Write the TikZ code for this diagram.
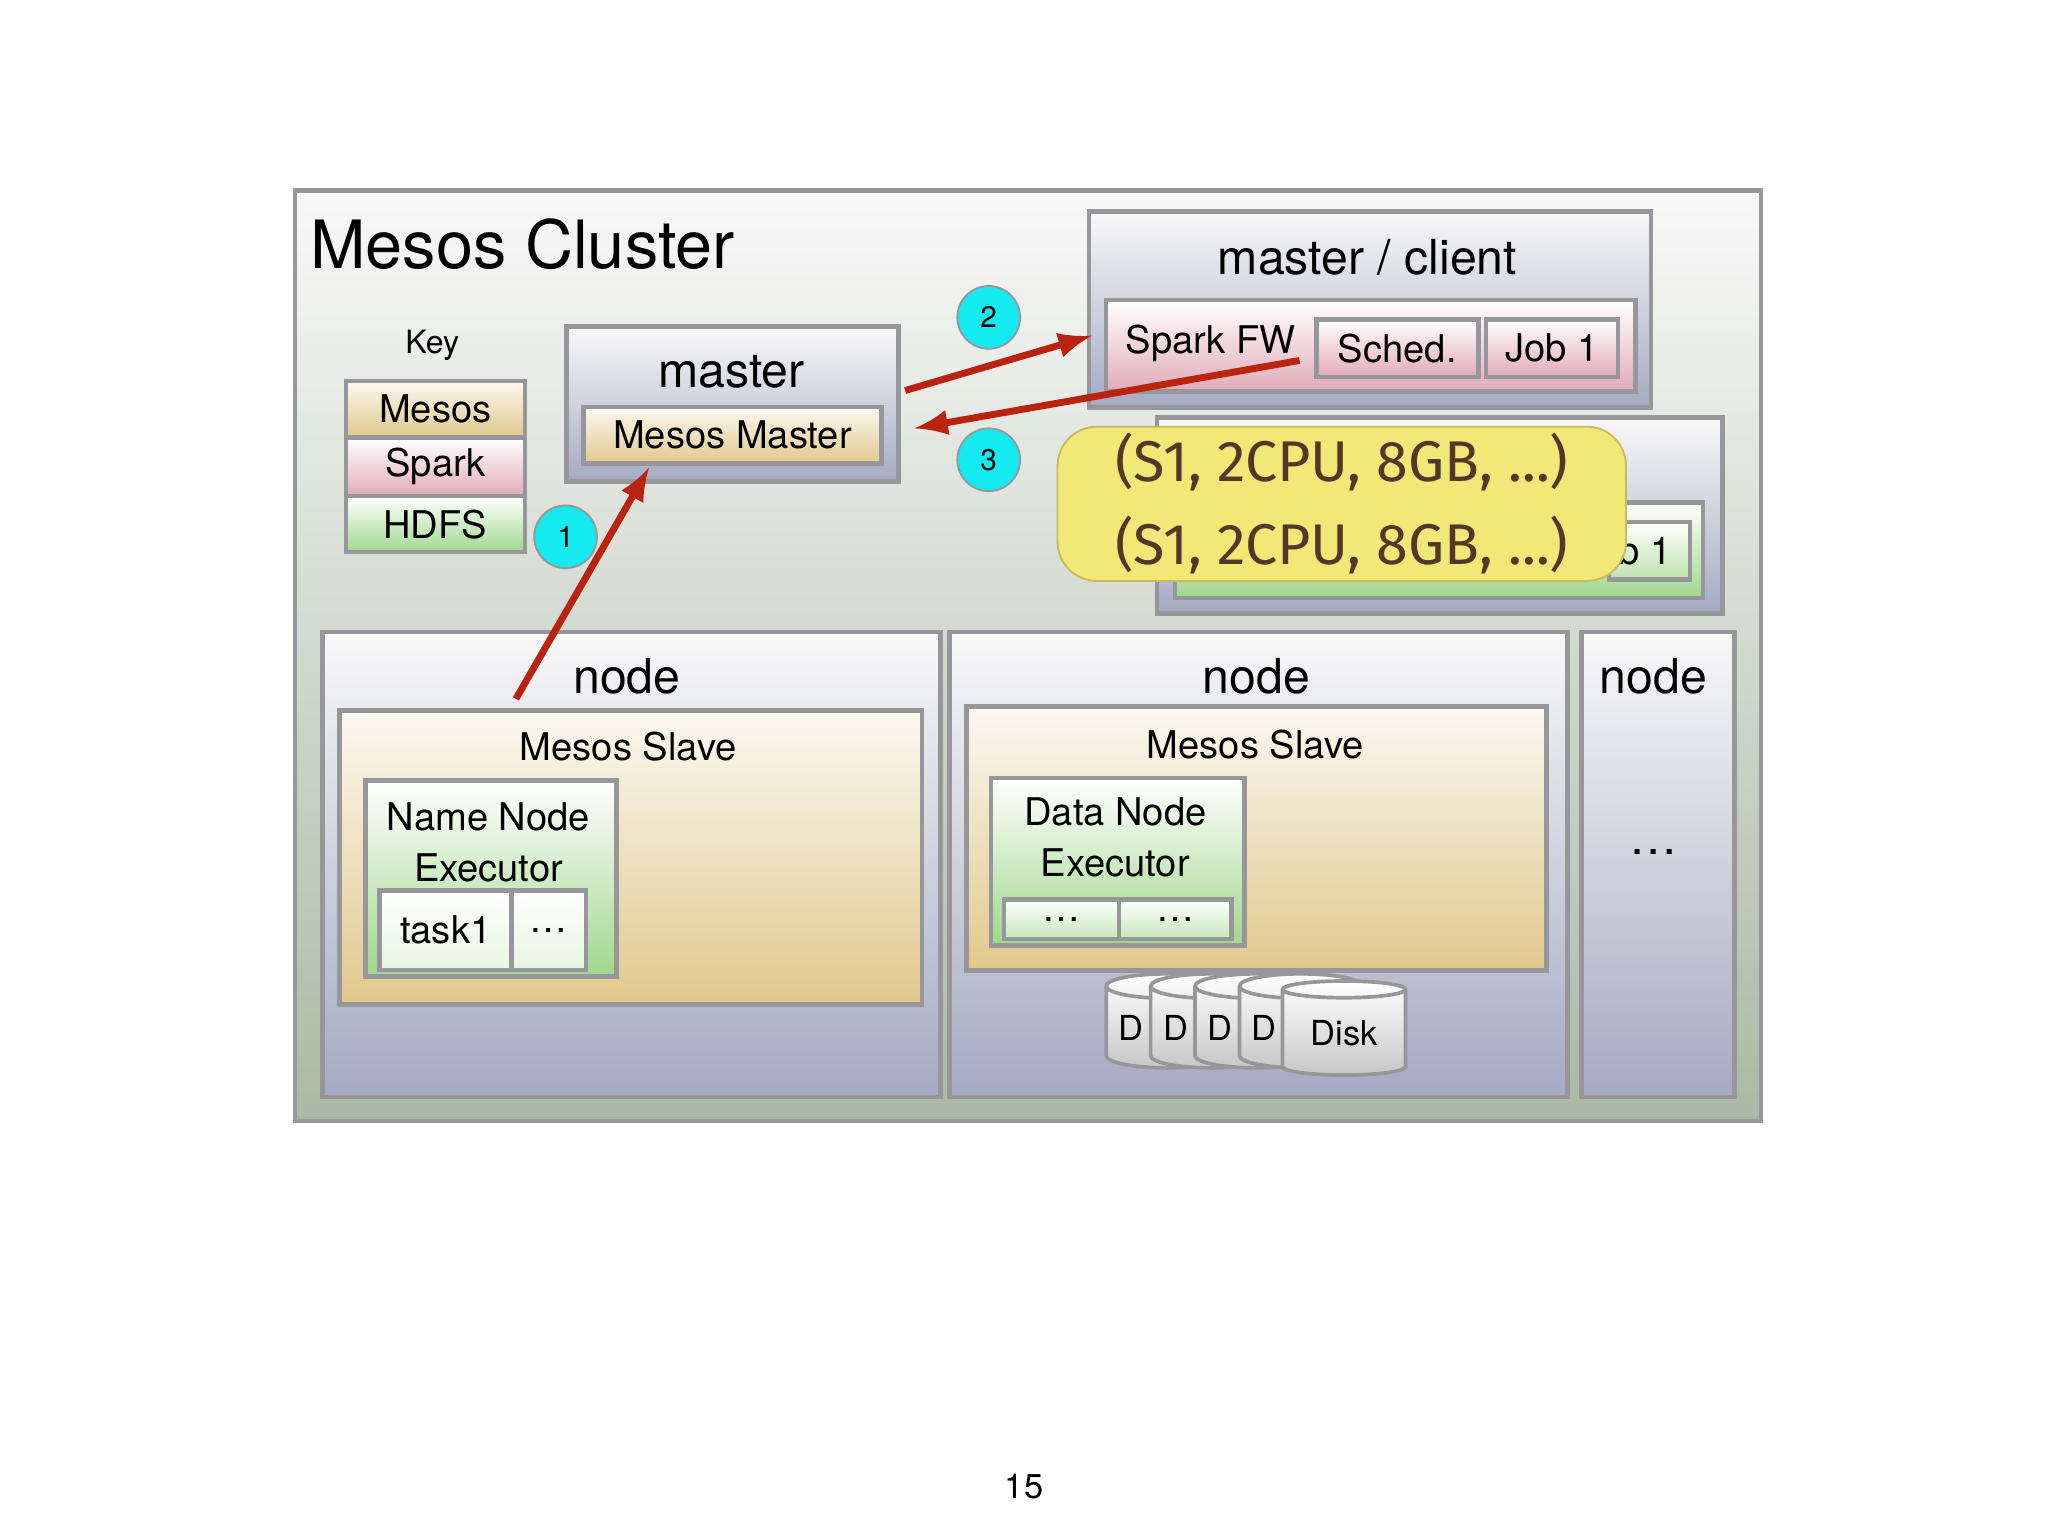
\documentclass[tikz,border=0pt]{standalone}
\usepackage{fontspec}
\setmainfont{TeX Gyre Heros}
\newfontfamily\offerfont{Fira Sans}
\usetikzlibrary{shapes.geometric}
\definecolor{frame}{RGB}{150,150,155}
\definecolor{arrowred}{RGB}{185,35,15}
\definecolor{tanbot}{RGB}{225,200,140}
\definecolor{pinkbot}{RGB}{225,170,185}
\definecolor{greenbot}{RGB}{160,215,140}
\definecolor{greytop}{RGB}{248,248,248}
\definecolor{bluegrey}{RGB}{165,170,195}
\definecolor{yel}{RGB}{242,232,120}
\definecolor{yeltext}{RGB}{85,55,40}
\definecolor{stepcyan}{RGB}{20,235,240}
\tikzset{
  box/.style={draw=frame, line width=1pt, anchor=north west, inner sep=0pt},
  mesos/.style={box, top color=white!60!tanbot!30, bottom color=tanbot},
  spark/.style={box, top color=white, bottom color=pinkbot},
  hdfs/.style={box, top color=white, bottom color=greenbot},
  grey/.style={box, top color=greytop, bottom color=bluegrey},
  lbl/.style={inner sep=0pt, font=\fontsize{10.5}{12}\selectfont},
  small/.style={inner sep=0pt, font=\fontsize{8.3}{10}\selectfont},
  stepmark/.style={circle, draw=frame, fill=stepcyan, minimum size=0.48cm, inner sep=0pt, font=\fontsize{6.5}{8}\selectfont},
  disk/.style={cylinder, shape border rotate=90, aspect=0.25, draw=frame, line width=0.8pt,
    top color=white, bottom color=black!22, minimum width=0.94cm, minimum height=0.72cm, inner sep=0pt,
    font=\fontsize{7.5}{9}\selectfont},
}
\begin{document}
\begin{tikzpicture}[>=latex, x=0.01cm, y=-0.01cm]
\useasboundingbox (0,0) rectangle (1568,1176);
\fill[white] (0,0) rectangle (1568,1176);

% cluster
\node[box, top color=greytop, bottom color={rgb,255:red,170;green,185;blue,165}, minimum width=11.22cm, minimum height=7.12cm] (cluster) at (224,144) {};
\node[inner sep=0pt, anchor=west, font=\fontsize{14.5}{17}\selectfont] (title) at (237,187) {Mesos Cluster};

% key
\node[inner sep=0pt, font=\fontsize{7}{9}\selectfont] (key) at (331,264) {Key};
\node[mesos, minimum width=1.37cm, minimum height=0.43cm] (kmesos) at (263,290) {};
\node[spark, minimum width=1.37cm, minimum height=0.45cm] (kspark) at (263,333) {};
\node[hdfs, minimum width=1.37cm, minimum height=0.43cm] (khdfs) at (263,378) {};
\node[small] at (kmesos.center) {Mesos};
\node[small] at (kspark.center) {Spark};
\node[small] at (khdfs.center) {HDFS};

% master
\node[grey, minimum width=2.54cm, minimum height=1.19cm] (master) at (432,248) {};
\node[lbl] at (560,285) {master};
\node[mesos, minimum width=2.28cm, minimum height=0.43cm] (mmaster) at (445,310) {};
\node[small] at (mmaster.center) {Mesos Master};

% second client (behind)
\node[grey, minimum width=4.33cm, minimum height=1.5cm] (client2) at (884,318) {};
\node[hdfs, minimum width=4.04cm, minimum height=0.73cm] (exec2) at (898,383) {};
\node[hdfs, top color=white, bottom color=greenbot!70, minimum width=0.62cm, minimum height=0.44cm] (job2) at (1230,398) {};
\node[small, anchor=east] at ([xshift=-0.15cm]job2.east) {Job 1};

% master / client
\node[grey, minimum width=4.30cm, minimum height=1.50cm] (client) at (832,160) {};
\node[lbl] at (1047,197) {master / client};
\node[spark, minimum width=4.05cm, minimum height=0.70cm] (sparkfw) at (845,228) {};
\node[small] at (927,263) {Spark FW};
\node[spark, minimum width=1.24cm, minimum height=0.44cm] (sched) at (1006,243) {};
\node[small] at (sched.center) {Sched.};
\node[spark, minimum width=1.01cm, minimum height=0.44cm] (job) at (1136,243) {};
\node[small] at (job.center) {Job 1};

% offers
\node[draw={rgb,255:red,200;green,185;blue,90}, fill=yel, rounded corners=0.3cm, minimum width=4.35cm, minimum height=1.18cm, anchor=north west, inner sep=0pt] (offer) at (809,326) {};
\node[inner sep=0pt, text=yeltext, align=center, font=\offerfont\fontsize{12.5}{13}\selectfont] at (offer.center) {(S1, 2CPU, 8GB, ...)\\[5pt](S1, 2CPU, 8GB, ...)};

% nodes
\node[grey, minimum width=4.73cm, minimum height=3.56cm] (node1) at (245,482) {};
\node[grey, minimum width=4.73cm, minimum height=3.56cm] (node2) at (725,482) {};
\node[grey, minimum width=1.17cm, minimum height=3.56cm] (node3) at (1209,482) {};
\node[lbl] at (480,518) {node};
\node[lbl] at (962,518) {node};
\node[lbl] at (1266,518) {node};
\node[lbl] at (1266,652) {\dots};

% slave 1
\node[mesos, minimum width=4.46cm, minimum height=2.25cm] (slave1) at (258,542) {};
\node[small] at (481,572) {Mesos Slave};
\node[hdfs, minimum width=1.92cm, minimum height=1.50cm] (nnexec) at (278,596) {};
\node[small, align=center] at (374,645) {Name Node\\[1pt]Executor};
\node[hdfs, top color=white, bottom color=greenbot!25, minimum width=1.01cm, minimum height=0.61cm] (task1) at (289,680) {};
\node[hdfs, top color=white, bottom color=greenbot!25, minimum width=0.57cm, minimum height=0.61cm] (task2) at (390,680) {};
\node[small] at (task1.center) {task1};
\node[small] at (task2.center) {\dots};

% slave 2
\node[mesos, minimum width=4.44cm, minimum height=2.02cm] (slave2) at (738,539) {};
\node[small] at (961,570) {Mesos Slave};
\node[hdfs, minimum width=1.94cm, minimum height=1.28cm] (dnexec) at (757,594) {};
\node[small, align=center] at (854,641) {Data Node\\[1pt]Executor};
\node[hdfs, top color=white, bottom color=greenbot!60, minimum width=0.88cm, minimum height=0.30cm] (dtask1) at (767,687) {};
\node[hdfs, top color=white, bottom color=greenbot!60, minimum width=0.86cm, minimum height=0.30cm] (dtask2) at (855,687) {};
\node[small] at (dtask1.center) {\dots};
\node[small] at (dtask2.center) {\dots};

% disks
\foreach \x/\n in {894/d1,928/d2,962/d3,996/d4}
  \node[disk, text width=0.75cm] (\n) at (\x,787) {D};
\node[disk] (disk) at (1029,791) {Disk};

% steps
\node[stepmark] (s1) at (433,411) {1};
\node[stepmark] (s2) at (757,243) {2};
\node[stepmark] (s3) at (757,352) {3};

\coordinate (a1) at (395,535);
\coordinate (a2) at (693,299);
\coordinate (a3) at (995,276);
\coordinate (h1) at (497,358);
\coordinate (h2) at (836,257);
\coordinate (h3) at (700,328);
\draw[->, arrowred, line width=1.5pt] (a1) -- (h1);
\draw[->, arrowred, line width=1.5pt] (a2) -- (h2);
\draw[->, arrowred, line width=1.5pt] (a3) -- (h3);

\node[inner sep=0pt, font=\fontsize{7.5}{9}\selectfont] (page) at (784,1138) {15};
\end{tikzpicture}
\end{document}
